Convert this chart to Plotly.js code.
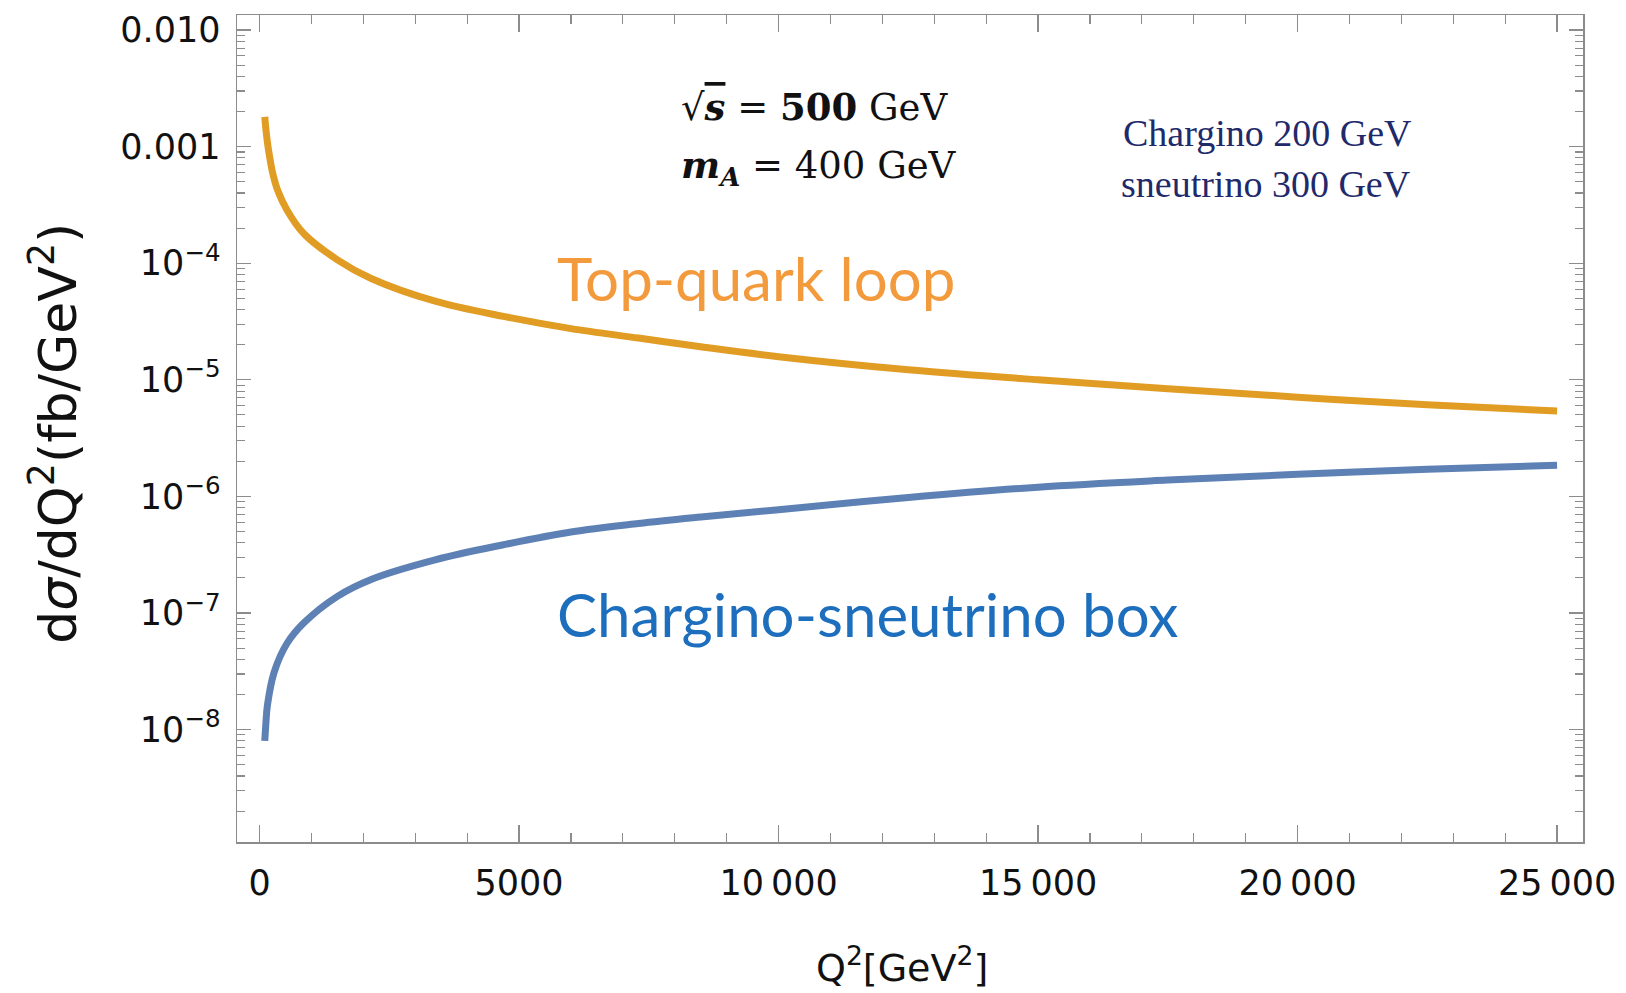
<!DOCTYPE html>
<html>
<head>
<meta charset="utf-8">
<script src="https://cdn.plot.ly/plotly-3.0.1.min.js"></script>
<style>
  html, body { margin: 0; padding: 0; background: #fff; }
  #chart { width: 1626px; height: 993px; }
</style>
</head>
<body>
<div id="chart"></div>
<script>
// Q^2 sample points (GeV^2) and differential cross sections (fb/GeV^2)
const q2Top = [100, 130, 170, 250, 350, 530, 850, 1500, 2150, 3400, 4700, 6000, 7300, 8500, 10000, 12500, 15000, 17500, 20000, 22500, 25000];
const topQuarkLoop = [1.8e-3, 1.3e-3, 9.5e-4, 6.0e-4, 4.2e-4, 2.85e-4, 1.8e-4, 1.07e-4, 7.4e-5, 4.7e-5, 3.5e-5, 2.75e-5, 2.28e-5, 1.92e-5, 1.58e-5, 1.22e-5, 1.0e-5, 8.4e-6, 7.1e-6, 6.1e-6, 5.4e-6];

const q2Box = [100, 120, 150, 280, 530, 850, 1500, 2150, 3400, 4700, 6000, 7300, 8500, 10000, 12500, 15000, 17500, 20000, 22500, 25000];
const charginoBox = [8.0e-9, 1.1e-8, 1.6e-8, 3.1e-8, 5.5e-8, 8.2e-8, 1.39e-7, 1.94e-7, 2.87e-7, 3.85e-7, 4.95e-7, 5.85e-7, 6.65e-7, 7.7e-7, 9.8e-7, 1.2e-6, 1.38e-6, 1.55e-6, 1.71e-6, 1.85e-6];

// Axis tick labels
const xTickVals = [0, 5000, 10000, 15000, 20000, 25000];
const xTickText = ['0', '5000', '10\u2009000', '15\u2009000', '20\u2009000', '25\u2009000'];
const yTickVals = [1e-2, 1e-3, 1e-4, 1e-5, 1e-6, 1e-7, 1e-8];
const yTickText = ['0.010', '0.001', '10<sup>\u22124</sup>', '10<sup>\u22125</sup>', '10<sup>\u22126</sup>', '10<sup>\u22127</sup>', '10<sup>\u22128</sup>'];

const frameColor = '#8c8c8c';
const tickFont = { family: 'DejaVu Sans, Arial, sans-serif', size: 35, color: '#111' };

const traces = [
  {
    x: q2Top, y: topQuarkLoop, type: 'scatter', mode: 'lines',
    line: { color: '#E19C24', width: 7, shape: 'spline', smoothing: 1 },
    hoverinfo: 'skip'
  },
  {
    x: q2Box, y: charginoBox, type: 'scatter', mode: 'lines',
    line: { color: '#5E81B5', width: 7, shape: 'spline', smoothing: 1 },
    hoverinfo: 'skip'
  }
];

const layout = {
  width: 1626, height: 993,
  margin: { l: 237, r: 43, t: 15, b: 150.5 },
  paper_bgcolor: '#fff', plot_bgcolor: '#fff',
  showlegend: false,
  font: { family: 'DejaVu Sans, Arial, sans-serif', color: '#111' },
  xaxis: {
    range: [-435, 25500],
    showgrid: false, zeroline: false,
    showline: true, linecolor: frameColor, linewidth: 1.5, mirror: 'allticks',
    ticks: 'inside', ticklen: 17, tickwidth: 1.3, tickcolor: frameColor,
    tickvals: xTickVals, ticktext: xTickText,
    tickfont: tickFont, ticklabelstandoff: 9,
    minor: { dtick: 1000, ticks: 'inside', ticklen: 9, tickwidth: 1.1, tickcolor: frameColor, showgrid: false }
  },
  yaxis: {
    type: 'log',
    range: [-8.964, -1.871],
    showgrid: false, zeroline: false,
    showline: true, linecolor: frameColor, linewidth: 1.5, mirror: 'allticks',
    ticks: 'inside', ticklen: 14, tickwidth: 1.3, tickcolor: frameColor,
    tickvals: yTickVals, ticktext: yTickText,
    tickfont: tickFont, ticklabelstandoff: 8,
    minor: { dtick: 'D1', ticks: 'inside', ticklen: 8, tickwidth: 1.1, tickcolor: frameColor, showgrid: false }
  },
  annotations: [
    {
      xref: 'paper', yref: 'paper', x: 0.494, y: -0.149, xanchor: 'center', yanchor: 'middle',
      text: 'Q<sup>2</sup>[GeV<sup>2</sup>]', showarrow: false,
      font: { family: 'DejaVu Sans, Arial, sans-serif', size: 38, color: '#111' }
    },
    {
      xref: 'paper', yref: 'paper', x: -0.136, y: 0.4949, xanchor: 'center', yanchor: 'middle',
      textangle: -90,
      text: 'd<i>\u03c3</i>/dQ<sup>2</sup>(fb/GeV<sup>2</sup>)', showarrow: false,
      font: { family: 'DejaVu Sans, Arial, sans-serif', size: 52, color: '#111' }
    },
    {
      xref: 'paper', yref: 'paper', x: 0.236, y: 0.682, xanchor: 'left', yanchor: 'middle',
      text: 'Top-quark loop', showarrow: false,
      font: { family: 'Lato, Open Sans, sans-serif', size: 60, color: '#F39A3C' }
    },
    {
      xref: 'paper', yref: 'paper', x: 0.236, y: 0.2755, xanchor: 'left', yanchor: 'middle',
      text: 'Chargino-sneutrino box', showarrow: false,
      font: { family: 'Lato, Open Sans, sans-serif', size: 60, color: '#1D6FBE' }
    },
    {
      xref: 'paper', yref: 'paper', x: 0.3284, y: 0.889, xanchor: 'left', yanchor: 'middle',
      text: '\u221a<span style="text-decoration:overline"><b><i>s</i></b></span> = <b>500</b> GeV', showarrow: false,
      font: { family: 'DejaVu Serif, Liberation Serif, serif', size: 37, color: '#111' }
    },
    {
      xref: 'paper', yref: 'paper', x: 0.3284, y: 0.815, xanchor: 'left', yanchor: 'middle',
      text: '<b><i>m</i></b><sub><b><i>A</i></b></sub> = 400 GeV', showarrow: false,
      font: { family: 'DejaVu Serif, Liberation Serif, serif', size: 37, color: '#111' }
    },
    {
      xref: 'paper', yref: 'paper', x: 0.6565, y: 0.8575, xanchor: 'left', yanchor: 'middle',
      text: 'Chargino 200 GeV', showarrow: false,
      font: { family: 'Liberation Serif, DejaVu Serif, serif', size: 38, color: '#1F2A6B' }
    },
    {
      xref: 'paper', yref: 'paper', x: 0.6550, y: 0.7958, xanchor: 'left', yanchor: 'middle',
      text: 'sneutrino 300 GeV', showarrow: false,
      font: { family: 'Liberation Serif, DejaVu Serif, serif', size: 38, color: '#1F2A6B' }
    }
  ]
};

Plotly.newPlot('chart', traces, layout, { staticPlot: true, displayModeBar: false });
</script>
</body>
</html>
